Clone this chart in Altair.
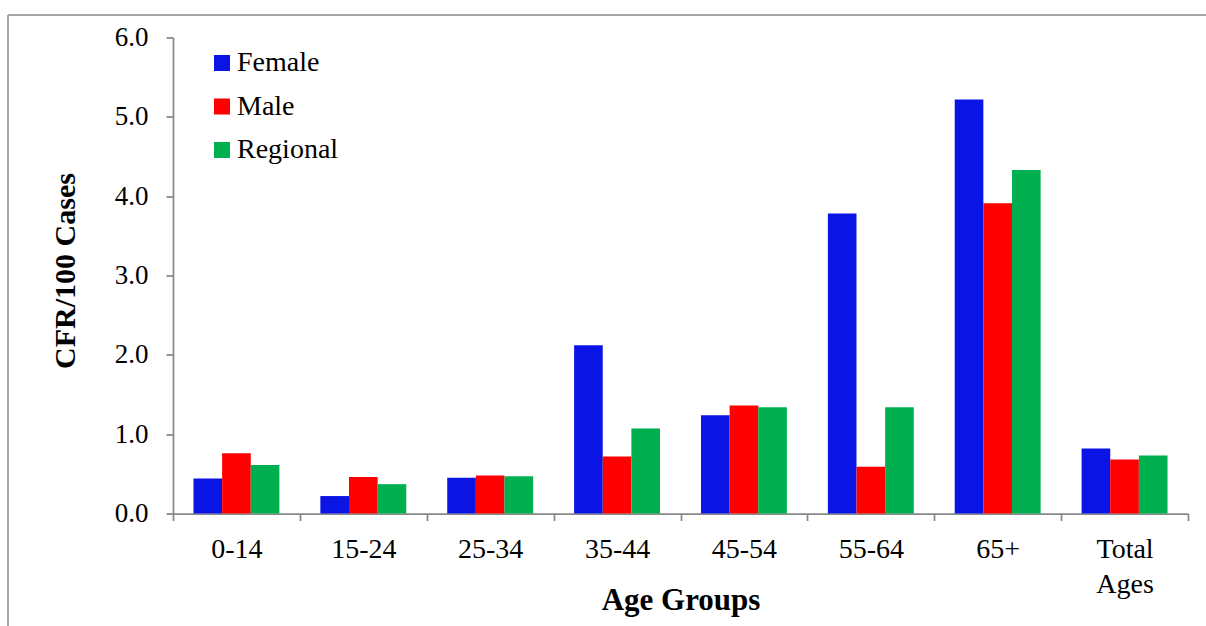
import altair as alt
import pandas as pd

groups = ["0-14", "15-24", "25-34", "35-44", "45-54", "55-64", "65+", "Total Ages"]
series = ["Female", "Male", "Regional"]
female = [0.44, 0.22, 0.45, 2.12, 1.24, 3.78, 5.22, 0.82]
male = [0.76, 0.46, 0.48, 0.72, 1.36, 0.59, 3.91, 0.68]
regional = [0.61, 0.37, 0.47, 1.07, 1.34, 1.34, 4.33, 0.73]
colors = ["#0A14E4", "#FF0000", "#00B050"]
y_ticks = [0, 1, 2, 3, 4, 5, 6]

rows = []
for name, vals in zip(series, [female, male, regional]):
    for g, v in zip(groups, vals):
        rows.append({"group": g, "series": name, "value": v})
df = pd.DataFrame(rows)

W, H = 1015, 476
FONT = "Liberation Serif"
GRAY = "#898989"

bars = alt.Chart(df).mark_bar(stroke=None).encode(
    x=alt.X("group:N", sort=groups,
            scale=alt.Scale(paddingInner=0, paddingOuter=0),
            axis=alt.Axis(title="Age Groups", labelAngle=0, tickBand="extent",
                          labelFont=FONT, labelFontSize=28, labelColor="black",
                          labelBaseline="alphabetic", labelPadding=37,
                          labelLineHeight=35,
                          labelExpr="datum.label == 'Total Ages' ? ['Total', 'Ages'] : datum.label",
                          titleFont=FONT, titleFontSize=31, titleFontWeight="bold",
                          titleColor="black", titleBaseline="alphabetic",
                          titleX=W / 2, titleY=95.5, titleAlign="center",
                          domainColor=GRAY, domainWidth=1.75,
                          tickColor=GRAY, tickWidth=1.75, tickSize=7)),
    xOffset=alt.XOffset("series:N", sort=series,
                        scale=alt.Scale(paddingInner=0, paddingOuter=0.715)),
    y=alt.Y("value:Q", scale=alt.Scale(domain=[0, 6], nice=False),
            axis=alt.Axis(title="CFR/100 Cases", values=y_ticks, format=".1f",
                          grid=False,
                          labelFont=FONT, labelFontSize=27, labelColor="black",
                          labelPadding=18,
                          titleFont=FONT, titleFontSize=30, titleFontWeight="bold",
                          titleColor="black", titleBaseline="alphabetic",
                          titleAngle=-90, titleAlign="center",
                          titleX=-99, titleY=233,
                          domainColor=GRAY, domainWidth=1.75,
                          tickColor=GRAY, tickWidth=1.75, tickSize=7)),
    color=alt.Color("series:N", sort=series,
                    scale=alt.Scale(domain=series, range=colors),
                    legend=alt.Legend(title=None, orient="none",
                                      legendX=35, legendY=11.5,
                                      symbolType="square", symbolSize=256,
                                      symbolStrokeWidth=0,
                                      labelFont=FONT, labelFontSize=28,
                                      labelColor="black", labelOffset=1,
                                      rowPadding=15.5, padding=0)),
)

frame_top = alt.Chart(pd.DataFrame({"k": [0]})).mark_rule(
    color=GRAY, strokeWidth=1.5, clip=False
).encode(x=alt.value(-165), x2=alt.value(W + 100), y=alt.value(-22.5))

frame_left = alt.Chart(pd.DataFrame({"k": [0]})).mark_rule(
    color=GRAY, strokeWidth=1.5, clip=False
).encode(x=alt.value(-165), y=alt.value(-22.5), y2=alt.value(H + 200))

chart = alt.layer(frame_top, frame_left, bars).properties(
    width=W, height=H,
    autosize=alt.AutoSizeParams(type="none"),
    padding={"left": 173, "top": 37.5, "right": 18, "bottom": 112.5},
    background="white",
).configure_view(stroke=None)

chart.save("out.html", embed_options={"renderer": "svg", "actions": False})
